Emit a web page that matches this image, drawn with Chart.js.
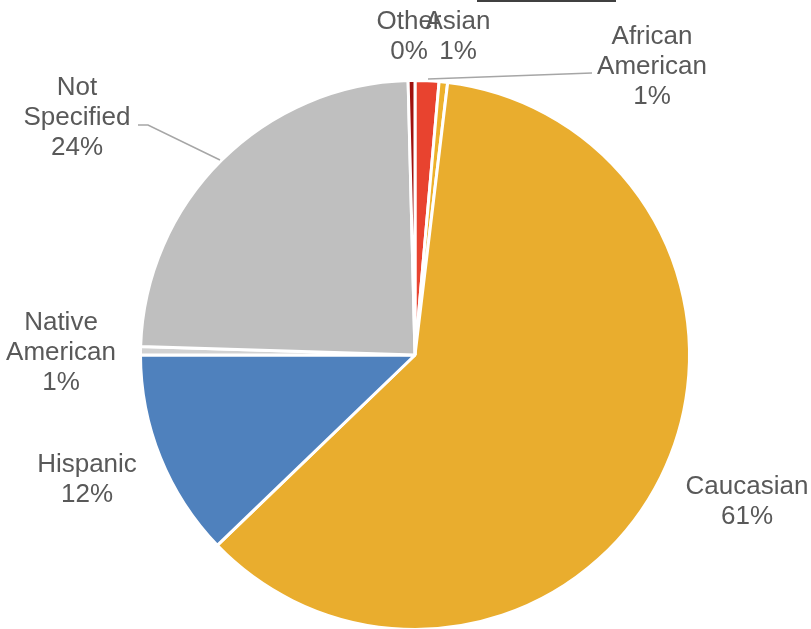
<!DOCTYPE html>
<html>
<head>
<meta charset="utf-8">
<script src="https://cdn.jsdelivr.net/npm/chart.js@4.4.1/dist/chart.umd.min.js"></script>
<style>
  html, body { margin: 0; padding: 0; background: #ffffff; overflow: hidden; }
  #wrap { width: 811px; height: 640px; }
</style>
</head>
<body>
<div id="wrap"><canvas id="chart" width="811" height="640"></canvas></div>
<script>
// Ethnicity breakdown (percent of total), clockwise from 12 o'clock
const categories = ['Asian', 'African American', 'Caucasian', 'Hispanic', 'Native American', 'Not Specified', 'Other'];
const shares = [1.4, 0.5, 60.9, 12.2, 0.5, 24.1, 0.4];
const sliceColors = ['#E8432F', '#EDB12C', '#E9AD2E', '#4F81BD', '#D2D2D2', '#BFBFBF', '#A0120E'];

// Where each data label sits (centre of the first text line)
const labelAnchors = [
  { x: 458, y: 22 },   // Asian
  { x: 652, y: 37 },   // African American
  { x: 747, y: 487 },  // Caucasian
  { x: 87,  y: 465 },  // Hispanic
  { x: 61,  y: 323 },  // Native American
  { x: 77,  y: 88 },   // Not Specified
  { x: 409, y: 22 }    // Other
];
// Leader lines from labels back to their slices
const leaderLines = [
  [[428, 79], [592, 73]],
  [[220, 160], [148, 125], [138, 125]]
];

const labelFont = '26px "Liberation Sans", Arial, sans-serif';
const labelColor = '#595959';
const lineHeight = 30;

const labelPlugin = {
  id: 'sliceLabels',
  afterDraw(chart) {
    const ctx = chart.ctx;
    ctx.save();
    // header rule along the top edge
    ctx.fillStyle = '#404040';
    ctx.fillRect(477, 0, 139, 2);

    ctx.strokeStyle = '#A6A6A6';
    ctx.lineWidth = 1.5;
    leaderLines.forEach(pts => {
      ctx.beginPath();
      ctx.moveTo(pts[0][0], pts[0][1]);
      for (let i = 1; i < pts.length; i++) ctx.lineTo(pts[i][0], pts[i][1]);
      ctx.stroke();
    });

    ctx.font = labelFont;
    ctx.fillStyle = labelColor;
    ctx.textAlign = 'center';
    ctx.textBaseline = 'middle';
    const data = chart.data.datasets[0].data;
    chart.data.labels.forEach((name, i) => {
      const lines = name.split(' ').concat([Math.round(data[i]) + '%']);
      const a = labelAnchors[i];
      lines.forEach((t, k) => ctx.fillText(t, a.x, a.y + k * lineHeight));
    });
    ctx.restore();
  }
};

new Chart(document.getElementById('chart'), {
  type: 'pie',
  data: {
    labels: categories,
    datasets: [{
      data: shares,
      backgroundColor: sliceColors,
      borderColor: '#ffffff',
      borderWidth: 3
    }]
  },
  options: {
    responsive: false,
    animation: false,
    layout: { padding: { left: 139, right: 120, top: 79, bottom: 9 } },
    plugins: {
      legend: { display: false },
      tooltip: { enabled: false }
    }
  },
  plugins: [labelPlugin]
});
</script>
</body>
</html>
